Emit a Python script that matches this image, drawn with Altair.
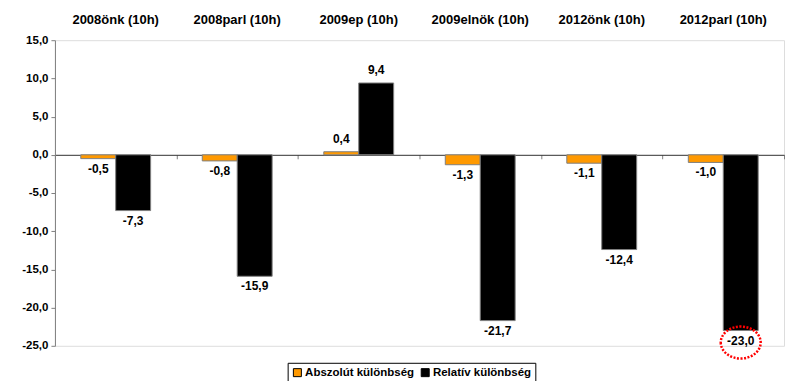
import altair as alt
import pandas as pd

categories = ["2008önk (10h)", "2008parl (10h)", "2009ep (10h)",
              "2009elnök (10h)", "2012önk (10h)", "2012parl (10h)"]
series = ["Abszolút különbség", "Relatív különbség"]
abs_vals = [-0.5, -0.8, 0.4, -1.3, -1.1, -1.0]
rel_vals = [-7.3, -15.9, 9.4, -21.7, -12.4, -23.0]
colors = ["#FF9900", "#000000"]
y_ticks = [-25, -20, -15, -10, -5, 0, 5, 10, 15]
highlight = ("2012parl (10h)", "Relatív különbség")

rows = []
for c, a, r in zip(categories, abs_vals, rel_vals):
    for s, v in zip(series, [a, r]):
        rows.append({"cat": c, "series": s, "value": v,
                     "label": f"{v:.1f}".replace(".", ","),
                     "hl": (c, s) == highlight})
df = pd.DataFrame(rows)

W, H = 730, 306
ymin, ymax = -25, 15
zero_offset = -(H * (0 - ymin) / (ymax - ymin))

FONT = "Liberation Sans"

xscale = alt.Scale(domain=categories, paddingInner=0, paddingOuter=0)
xoff = alt.XOffset("series:N", sort=series,
                   scale=alt.Scale(domain=series, paddingOuter=0.739, paddingInner=0))
yscale = alt.Scale(domain=[ymin, ymax], nice=False, zero=False)

yaxis = alt.Axis(values=y_ticks, grid=False, title=None, labelOverlap=False,
                 labelExpr="replace(replace(format(datum.value, '.1f'), '.', ','), '\u2212', '-')",
                 labelFont=FONT, labelFontWeight="bold", labelFontSize=11.5, labelColor="#000",
                 domainColor="#808080", tickColor="#808080", tickSize=4, labelPadding=3)
Y = alt.Y("value:Q", scale=yscale, axis=yaxis)

base = alt.Chart(df)

bars = base.mark_bar(stroke="#808080", strokeWidth=1).encode(
    x=alt.X("cat:N", sort=categories, scale=xscale,
            axis=alt.Axis(orient="top", title=None, ticks=False, domain=False,
                          labelAngle=0, labelFont=FONT, labelFontWeight="bold",
                          labelFontSize=13, labelColor="#000", labelPadding=14)),
    xOffset=xoff,
    y=Y,
    color=alt.Color("series:N", sort=series,
                    scale=alt.Scale(domain=series, range=colors),
                    legend=alt.Legend(title=None, orient="none", legendX=233, legendY=323,
                                      direction="horizontal", strokeColor="#000",
                                      padding=4, symbolType="square", symbolSize=64,
                                      symbolStrokeColor="#000", symbolStrokeWidth=1,
                                      labelFont=FONT, labelFontWeight="bold",
                                      labelFontSize=11.5, labelColor="#000",
                                      columnPadding=4, labelOffset=2)),
)

zero_axis = base.mark_rule(opacity=0).encode(
    x=alt.X("cat:N", sort=categories, scale=xscale,
            axis=alt.Axis(orient="bottom", title=None, labels=False, offset=zero_offset,
                          domainColor="#303030", tickColor="#808080", tickSize=4,
                          tickBand="extent")),
    y=Y,
)

txt_neg = base.transform_filter("datum.value < 0").mark_text(
    baseline="top", dy=5, font=FONT, fontWeight="bold", fontSize=12, color="#000"
).encode(
    x=alt.X("cat:N", sort=categories, scale=xscale, axis=None),
    xOffset=xoff,
    y=Y,
    text="label:N",
)

txt_pos = base.transform_filter("datum.value >= 0").mark_text(
    baseline="bottom", dy=-6, font=FONT, fontWeight="bold", fontSize=12, color="#000"
).encode(
    x=alt.X("cat:N", sort=categories, scale=xscale, axis=None),
    xOffset=xoff,
    y=Y,
    text="label:N",
)

ellipse = base.transform_filter("datum.hl").mark_point(
    shape="M -1 0.6 A 1 0.8 0 1 0 1 0.6 A 1 0.8 0 1 0 -1 0.6 Z",
    size=1600, filled=False, stroke="#FF0000", strokeWidth=2.5,
    strokeDash=[2, 1.5], opacity=1
).encode(
    x=alt.X("cat:N", sort=categories, scale=xscale, axis=None),
    xOffset=xoff,
    y=Y,
)

chart = alt.layer(bars, zero_axis, txt_neg, txt_pos, ellipse).resolve_axis(
    x="independent"
).properties(
    width=W, height=H,
    autosize=alt.AutoSizeParams(type="none"),
    padding={"left": 47, "top": 32, "right": 8, "bottom": 35},
).configure_view(stroke=None).configure(background="white")

chart.save("out.html", embed_options={"renderer": "svg", "actions": False})
